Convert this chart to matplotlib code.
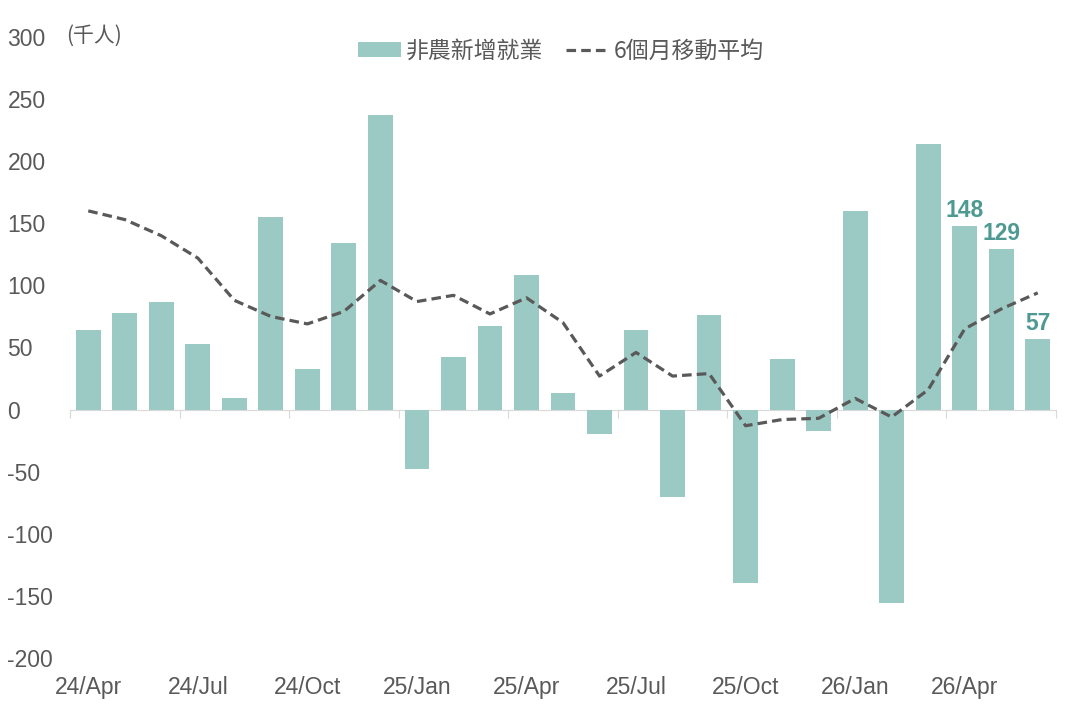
import matplotlib
matplotlib.use("Agg")
import matplotlib.pyplot as plt
import numpy as np

plt.rcParams["font.family"] = ["Liberation Sans", "Noto Sans CJK TC", "DejaVu Sans"]
plt.rcParams["axes.unicode_minus"] = False

# data: nonfarm payrolls (thousands), 24/Apr .. 26/Jun
months = [
    "24/Apr", "24/May", "24/Jun", "24/Jul", "24/Aug", "24/Sep", "24/Oct", "24/Nov", "24/Dec",
    "25/Jan", "25/Feb", "25/Mar", "25/Apr", "25/May", "25/Jun", "25/Jul", "25/Aug", "25/Sep",
    "25/Oct", "25/Nov", "25/Dec", "26/Jan", "26/Feb", "26/Mar", "26/Apr", "26/May", "26/Jun",
]
payrolls = [64, 78, 87, 53, 9, 155, 33, 134, 237,
            -48, 42, 67, 108, 13, -20, 64, -70, 76,
            -140, 41, -17, 160, -156, 214, 148, 129, 57]
moving_avg = [160, 153, 140, 122, 88, 75, 69, 79, 104,
              87, 92, 77, 90, 70, 27, 46, 27, 29,
              -13, -8, -7, 9, -6, 16, 65, 81, 94]
labelled = ["26/Apr", "26/May", "26/Jun"]

BAR = "#9BC9C4"
LINE = "#595959"
LABEL = "#4E9A93"
TEXT = "#595959"
CJK = ["Noto Sans CJK TC", "DejaVu Sans"]

fig = plt.figure(figsize=(10.77, 7.18), dpi=100)
ax = fig.add_axes([70 / 1077, 1 - 658 / 718, 986 / 1077, 621 / 718])

x = np.arange(len(months))
bars = ax.bar(x, payrolls, width=0.68, color=BAR, label="非農新增就業", zorder=2)
line, = ax.plot(x, moving_avg, color=LINE, lw=2.3, ls=(0, (3, 1.6)), label="6個月移動平均", zorder=3)

for m in labelled:
    i = months.index(m)
    ax.annotate(str(payrolls[i]), (x[i], payrolls[i]), xytext=(0, 3), textcoords="offset points",
                ha="center", va="bottom", fontsize=16.5, fontweight="bold", color=LABEL)

ax.set_xlim(-0.5, len(months) - 0.5)
ax.set_ylim(-200, 300)
ax.set_yticks(np.arange(-200, 301, 50))
ax.tick_params(axis="y", length=0, pad=45, labelsize=16.5, labelcolor=TEXT)
for t in ax.get_yticklabels():
    t.set_horizontalalignment("left")

for s in ["top", "right", "left"]:
    ax.spines[s].set_visible(False)
ax.spines["bottom"].set_position(("data", 0))
ax.spines["bottom"].set_color("#D9D9D9")
ax.spines["bottom"].set_zorder(1)
ax.set_xticks(np.arange(-0.5, len(months), 3))
ax.set_xticklabels([])
ax.tick_params(axis="x", length=6, color="#D9D9D9", direction="out")

sec = ax.secondary_xaxis(0)
sec.spines["bottom"].set_visible(False)
sec.set_xticks(x[::3])
sec.set_xticklabels(months[::3])
sec.tick_params(length=0, pad=13, labelsize=16.5, labelcolor=TEXT)

fig.text(66 / 1077, 1 - 36 / 718, "(千人)", fontsize=15, color=TEXT, va="center", family=CJK)

leg = ax.legend([bars, line], ["非農新增就業", "6個月移動平均"], loc="center",
                bbox_to_anchor=(561 / 1077, 1 - 51 / 718), bbox_transform=fig.transFigure,
                ncol=2, frameon=False, handlelength=1.9, handleheight=0.6, handletextpad=0.2,
                columnspacing=1.0, prop={"family": CJK, "size": 16.5})
for t in leg.get_texts():
    t.set_color(TEXT)

fig.savefig("out.png", dpi=100)
